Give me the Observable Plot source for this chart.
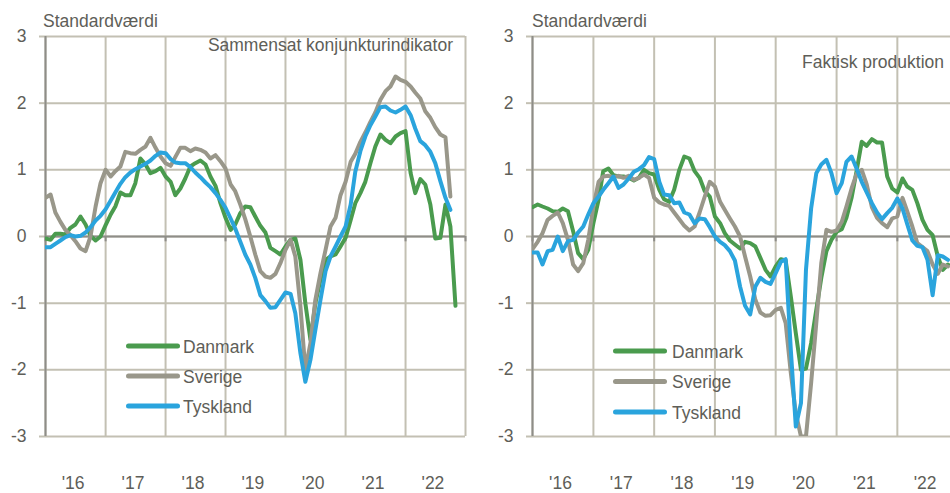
<!DOCTYPE html>
<html><head><meta charset="utf-8">
<script src="https://cdn.jsdelivr.net/npm/d3@7"></script>
<script src="https://cdn.jsdelivr.net/npm/@observablehq/plot@0.6"></script>
<style>
html,body{margin:0;padding:0;background:#fff;}
#wrap{position:relative;width:950px;height:493px;overflow:hidden;background:#fff;}
#wrap > div{position:absolute;top:0;}
</style></head><body>
<div id="wrap"><div id="left" style="left:0;width:475px"></div><div id="right" style="left:475px;width:490px"></div></div>
<script>
// ---- data ----
const countries = ["Danmark", "Sverige", "Tyskland"];
const colors = ["#4a9b4e", "#99978a", "#2aa4dd"];
const years = [2016, 2017, 2018, 2019, 2020, 2021, 2022];
const xTickLabels = ["'16", "'17", "'18", "'19", "'20", "'21", "'22"];
const yTicks = [-3, -2, -1, 0, 1, 2, 3];
const yTickLabels = ["-3", "-2", "-1", "0", "1", "2", "3"];
const unitLabel = "Standardværdi";
const leftTitle = "Sammensat konjunkturindikator";
const rightTitle = "Faktisk produktion";

// monthly values from Jan 2016
const leftDanmark = [
-0.03,-0.05,0.04,0.04,0.03,0.13,0.18,0.30,0.18,0.01,
-0.06,0.00,0.17,0.33,0.45,0.66,0.62,0.62,0.80,1.17,
1.08,0.95,0.98,1.03,0.90,0.82,0.62,0.72,0.87,1.05,
1.10,1.14,1.08,0.90,0.76,0.50,0.28,0.10,0.18,0.35,
0.45,0.44,0.30,0.16,0.06,-0.17,-0.22,-0.27,-0.15,-0.05,
-0.03,-0.35,-1.00,-1.55,-1.00,-0.65,-0.35,-0.30,-0.27,-0.15,
-0.02,0.25,0.50,0.65,0.82,1.10,1.35,1.53,1.45,1.40,
1.50,1.55,1.58,0.95,0.65,0.86,0.78,0.48,-0.03,-0.02,
0.48,0.15,-1.04];
const leftSverige = [
0.58,0.63,0.36,0.22,0.10,0.02,-0.07,-0.18,-0.22,0.00,
0.45,0.80,1.00,0.90,0.98,1.05,1.27,1.25,1.24,1.30,
1.35,1.48,1.33,1.20,1.10,1.06,1.19,1.33,1.33,1.28,
1.32,1.30,1.26,1.17,1.22,1.13,1.02,0.78,0.68,0.48,
0.26,0.00,-0.27,-0.52,-0.60,-0.62,-0.56,-0.40,-0.20,-0.05,
-0.30,-1.05,-2.00,-1.60,-0.95,-0.55,-0.20,0.15,0.28,0.62,
0.82,1.12,1.24,1.42,1.56,1.72,1.86,2.05,2.18,2.25,
2.40,2.35,2.32,2.25,2.16,2.07,1.88,1.78,1.64,1.53,
1.49,0.60];
const leftTyskland = [
-0.16,-0.16,-0.11,-0.06,-0.01,0.02,0.00,0.01,0.06,0.14,
0.24,0.31,0.41,0.54,0.66,0.79,0.89,0.96,1.01,1.05,
1.09,1.14,1.21,1.26,1.25,1.16,1.11,1.10,1.10,1.04,
0.96,0.89,0.81,0.74,0.65,0.55,0.43,0.27,0.12,-0.08,
-0.27,-0.42,-0.62,-0.88,-0.97,-1.07,-1.06,-0.95,-0.84,-0.86,
-1.15,-1.75,-2.18,-1.85,-1.40,-0.95,-0.52,-0.30,-0.15,0.00,
0.15,0.48,0.97,1.28,1.50,1.67,1.80,1.94,1.95,1.89,
1.86,1.90,1.95,1.82,1.62,1.43,1.37,1.27,1.10,0.83,
0.58,0.40];
const rightDanmark = [
0.44,0.48,0.45,0.42,0.38,0.37,0.42,0.38,0.08,-0.25,
-0.34,-0.20,0.20,0.55,0.98,1.02,0.92,0.90,0.90,0.88,
0.84,0.88,1.00,0.95,0.93,0.70,0.56,0.52,0.70,1.00,
1.20,1.17,0.98,0.88,0.68,0.60,0.30,0.20,0.05,-0.06,
-0.12,-0.18,-0.08,-0.10,-0.15,-0.32,-0.50,-0.60,-0.45,-0.34,
-0.36,-0.90,-1.45,-2.00,-1.98,-1.60,-1.10,-0.62,-0.22,-0.05,
0.07,0.11,0.28,0.58,0.98,1.42,1.36,1.46,1.41,1.41,
0.90,0.72,0.66,0.87,0.75,0.70,0.50,0.25,0.10,0.02,
-0.30,-0.50,-0.42];
const rightSverige = [
-0.19,-0.08,0.05,0.25,0.31,0.36,0.20,-0.05,-0.42,-0.52,
-0.40,-0.05,0.45,0.82,0.90,0.91,0.89,0.91,0.88,0.91,
0.85,0.88,0.93,0.88,0.58,0.51,0.48,0.46,0.36,0.26,
0.16,0.09,0.15,0.36,0.60,0.82,0.75,0.52,0.40,0.27,
0.15,0.00,-0.30,-0.60,-0.95,-1.14,-1.19,-1.18,-1.10,-1.07,
-1.30,-2.05,-2.65,-3.00,-3.00,-2.20,-1.30,-0.40,0.10,0.07,
0.09,0.22,0.45,0.72,0.94,1.00,0.78,0.44,0.28,0.20,
0.14,0.27,0.30,0.58,0.38,0.15,-0.10,-0.16,-0.22,-0.42,
-0.56,-0.42,-0.45];
const rightTyskland = [
-0.24,-0.24,-0.42,-0.22,-0.20,0.00,-0.22,-0.07,-0.05,0.06,
0.15,0.33,0.50,0.60,0.70,0.80,0.90,0.73,0.78,0.87,
0.97,1.01,1.07,1.19,1.16,0.82,0.63,0.62,0.50,0.51,
0.36,0.33,0.20,0.27,0.26,0.14,0.00,-0.08,-0.13,-0.22,
-0.36,-0.75,-1.04,-1.17,-0.75,-0.62,-0.68,-0.71,-0.55,-0.38,
-0.34,-1.70,-2.85,-2.50,-0.50,0.42,0.95,1.08,1.15,0.95,
0.65,0.80,1.12,1.20,1.02,0.82,0.66,0.50,0.36,0.26,
0.35,0.43,0.57,0.42,0.19,-0.06,-0.14,-0.16,-0.35,-0.88,
-0.28,-0.30,-0.35];

// ---- styling ----
const fontFamily = '"Liberation Sans", Arial, Helvetica, sans-serif';
const fontSize = 17.5;
const textColor = "#5e5e58";
const gridColor = "#c3c0b3";
const axisColor = "#8e8d88";

const monthDate = m => new Date(Date.UTC(years[0], m, 1));
const boundaries = [...years, years[years.length - 1] + 1].map(y => new Date(Date.UTC(y, 0, 1)));
const midYears = years.map(y => new Date(Date.UTC(y, 6, 2)));

function panel(el, o) {
  const rows = [];
  countries.forEach((c, i) => o.series[i].forEach((v, m) => rows.push({country: c, date: monthDate(m), value: v})));
  const svg = Plot.plot({
    width: o.width, height: 493,
    marginLeft: o.marginLeft, marginRight: o.marginRight, marginTop: 36, marginBottom: 57,
    style: {fontFamily, fontSize: fontSize + "px", color: textColor, background: "#fff"},
    x: {type: "utc", domain: [boundaries[0], boundaries[boundaries.length - 1]], label: null},
    y: {domain: [yTicks[0], yTicks[yTicks.length - 1]], label: null},
    color: {domain: countries, range: colors},
    marks: [
      Plot.gridY(yTicks, {stroke: gridColor, strokeOpacity: 1, strokeWidth: 2}),
      Plot.gridX(boundaries, {stroke: gridColor, strokeOpacity: 1, strokeWidth: 2}),
      Plot.axisY(yTicks, {tickSize: 6, tickPadding: 13, stroke: gridColor, strokeWidth: 2, label: null,
        tickFormat: d => yTickLabels[yTicks.indexOf(d)]}),
      Plot.axisX(midYears, {tickSize: 0, tickPadding: 40, dx: -2.5, label: null,
        tickFormat: d => xTickLabels[midYears.findIndex(t => +t === +d)]}),
      Plot.ruleY([0], {stroke: axisColor, strokeWidth: 2}),
      Plot.ruleX(boundaries, {y1: 0, y2: -0.08, stroke: axisColor, strokeWidth: 2}),
      Plot.ruleX([boundaries[0]], {stroke: axisColor, strokeWidth: 2}),
      Plot.line(rows, {x: "date", y: "value", z: "country", stroke: "country", strokeWidth: 4,
        strokeLinejoin: "round", strokeLinecap: "round", clip: true})
    ]
  });
  const s = d3.select(svg);
  s.append("text").attr("x", o.unitX).attr("y", 27).attr("fill", textColor)
    .attr("text-anchor", "start").attr("font-size", fontSize).text(unitLabel);
  s.append("text").attr("x", o.titleX).attr("y", o.titleY).attr("text-anchor", o.titleAnchor)
    .attr("fill", textColor).attr("font-size", fontSize).text(o.title);
  const g = s.append("g");
  countries.forEach((c, i) => {
    const y = o.legendY + i * o.legendStep;
    g.append("line").attr("x1", o.legendX1).attr("x2", o.legendX2).attr("y1", y).attr("y2", y)
      .attr("stroke", colors[i]).attr("stroke-width", 5).attr("stroke-linecap", "round");
    g.append("text").attr("x", o.legendTextX).attr("y", y + 6.5).attr("fill", textColor)
      .attr("text-anchor", "start").attr("font-size", fontSize).text(c);
  });
  el.appendChild(svg);
}

panel(document.getElementById("left"), {
  width: 475, marginLeft: 45, marginRight: 10,
  series: [leftDanmark, leftSverige, leftTyskland],
  unitX: 43, title: leftTitle, titleX: 453, titleY: 51, titleAnchor: "end",
  legendX1: 128.5, legendX2: 177.5, legendTextX: 183, legendY: 346, legendStep: 30
});
panel(document.getElementById("right"), {
  width: 490, marginLeft: 57, marginRight: 7.4,
  series: [rightDanmark, rightSverige, rightTyskland],
  unitX: 57, title: rightTitle, titleX: 327, titleY: 68, titleAnchor: "start",
  legendX1: 140.5, legendX2: 189.5, legendTextX: 197, legendY: 351, legendStep: 30.5
});
</script>
</body></html>
